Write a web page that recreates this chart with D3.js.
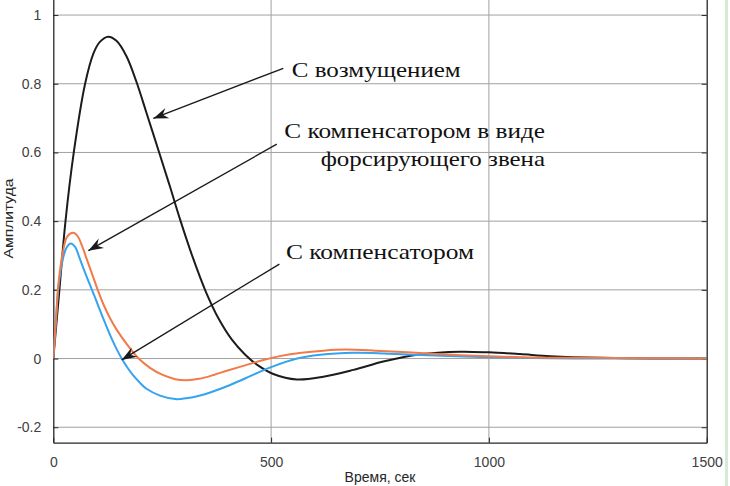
<!DOCTYPE html>
<html><head><meta charset="utf-8">
<script src="https://cdn.jsdelivr.net/npm/d3@7/dist/d3.min.js"></script>
<style>html,body{margin:0;padding:0;background:#fff;overflow:hidden}</style>
</head><body>
<svg id="chart" width="730" height="486"></svg>
<script>
// ---- data ----
const xTicks = [0, 500, 1000, 1500];
const yTicks = [-0.2, 0, 0.2, 0.4, 0.6, 0.8, 1];
const xLabel = "Время, сек";
const yLabel = "Амплитуда";

const blackT = [0, 14, 28, 47, 73, 92, 107, 126, 145, 168, 191, 214, 243, 268, 291, 320, 350, 380, 410, 440, 470, 505, 559, 620, 689, 760, 840, 934, 1000, 1071, 1141, 1260, 1400, 1500];
const blackV = [0, 0.2, 0.4, 0.6, 0.8, 0.888, 0.922, 0.937, 0.925, 0.88, 0.805, 0.715, 0.6, 0.5, 0.405, 0.295, 0.195, 0.115, 0.055, 0.012, -0.02, -0.045, -0.061, -0.053, -0.033, -0.008, 0.012, 0.020, 0.018, 0.013, 0.007, 0.002, 0, 0];

const orangeT = [0, 6, 12, 22, 32, 46, 56, 66, 78, 90, 102, 115, 130, 145, 170, 196, 222, 250, 280, 305, 335, 370, 400, 440, 480, 520, 570, 620, 670, 740, 842, 950, 1071, 1200, 1350, 1500];
const orangeV = [0, 0.11, 0.22, 0.31, 0.355, 0.366, 0.356, 0.328, 0.285, 0.243, 0.2, 0.158, 0.118, 0.085, 0.04, 0, -0.027, -0.047, -0.06, -0.063, -0.059, -0.047, -0.035, -0.02, -0.005, 0.007, 0.017, 0.023, 0.026, 0.023, 0.016, 0.009, 0.004, 0.002, 0.001, 0];

const blueT = [0, 6, 12, 22, 30, 40, 50, 61, 72, 84, 96, 107, 120, 134, 146, 157, 170, 184, 200, 214, 245, 280, 320, 360, 400, 440, 500, 560, 613, 690, 760, 842, 1000, 1150, 1300, 1500];
const blueV = [0, 0.11, 0.21, 0.29, 0.322, 0.335, 0.325, 0.29, 0.253, 0.215, 0.177, 0.141, 0.1, 0.058, 0.026, 0, -0.026, -0.05, -0.072, -0.088, -0.108, -0.118, -0.113, -0.099, -0.08, -0.058, -0.025, 0, 0.011, 0.017, 0.015, 0.01, 0.004, 0.001, 0, 0];

const annotationTexts = [["С возмущением"], ["С компенсатором в виде", "форсирующего звена"], ["С компенсатором"]];
// arrows: tail and head in data units (time, amplitude)
const arrowTails = [[528, 0.845], [513, 0.624], [519, 0.275]];
const arrowHeads = [[229.6, 0.699], [80.4, 0.314], [157, -0.004]];

// ---- layout ----
const W = 730, H = 486;
const L = 53.3, R = 706.7, B = 442.7;
const x = d3.scaleLinear().domain([0, 1500]).range([L, R]);
const y = d3.scaleLinear().domain([-0.245, 1.2]).range([B, B - 1.445 * 343.5]);

const svg = d3.select("#chart");
svg.append("rect").attr("width", W).attr("height", H).attr("fill", "#fff");
svg.append("rect").attr("x", 725).attr("y", 0).attr("width", 3).attr("height", H).attr("fill", "#d6ead6");

const defs = svg.append("defs");
defs.append("clipPath").attr("id", "clip").append("rect")
  .attr("x", L).attr("y", y.range()[1]).attr("width", R - L).attr("height", B - y.range()[1]);

// grid
const grid = svg.append("g").attr("stroke", "#a0a0a0").attr("stroke-width", 1);
yTicks.forEach(v => grid.append("line").attr("x1", L).attr("x2", R).attr("y1", y(v)).attr("y2", y(v)));
xTicks.slice(1, -1).forEach(v => grid.append("line").attr("x1", x(v)).attr("x2", x(v)).attr("y1", 0).attr("y2", B));

// axes
const fmt = d => String(d);
const gx = svg.append("g").attr("transform", `translate(0,${B})`)
  .call(d3.axisBottom(x).tickValues(xTicks).tickFormat(fmt).tickSizeInner(-5).tickSizeOuter(0).tickPadding(15));
const gy = svg.append("g").attr("transform", `translate(${L},0)`)
  .call(d3.axisLeft(y).tickValues(yTicks).tickFormat(fmt).tickSizeInner(-5).tickSizeOuter(0).tickPadding(12));
const gr = svg.append("g").attr("transform", `translate(${R},0)`)
  .call(d3.axisRight(y).tickValues(yTicks).tickFormat("").tickSizeInner(-5).tickSizeOuter(0));
[gx, gy, gr].forEach(g => {
  g.selectAll(".domain").attr("stroke", "#262626").attr("stroke-width", 1.3);
  g.selectAll(".tick line").attr("stroke", "#262626").attr("stroke-width", 1);
  g.selectAll("text").attr("fill", "#404040").attr("font-family", "Liberation Sans, Arial, sans-serif").attr("font-size", 14);
});
gx.selectAll("text").attr("dy", "0.35em").attr("y", 19);

svg.append("text").attr("transform", `translate(12.5,218.5) rotate(-90)`)
  .attr("text-anchor", "middle").attr("font-family", "Liberation Sans, Arial, sans-serif")
  .attr("font-size", 13).attr("textLength", 80).attr("lengthAdjust", "spacingAndGlyphs")
  .attr("fill", "#262626").text(yLabel);
svg.append("text").attr("x", (L + R) / 2).attr("y", 481.5).attr("text-anchor", "middle")
  .attr("font-family", "Liberation Sans, Arial, sans-serif").attr("font-size", 14).attr("fill", "#262626").text(xLabel);

// curves
const line = d3.line().x(d => x(d[0])).y(d => y(d[1])).curve(d3.curveCatmullRom.alpha(0.5));
const series = [
  {t: blackT, v: blackV, c: "#1c1c1c"},
  {t: blueT, v: blueV, c: "#35a3ef"},
  {t: orangeT, v: orangeV, c: "#f27a48"}
];
const plot = svg.append("g").attr("clip-path", "url(#clip)");
series.forEach(s => {
  plot.append("path").datum(d3.zip(s.t, s.v)).attr("d", line)
    .attr("fill", "none").attr("stroke", s.c).attr("stroke-width", 2).attr("stroke-linejoin", "round");
});

// arrows
arrowTails.forEach((tl, i) => {
  const hd = arrowHeads[i];
  const x1 = x(tl[0]), y1 = y(tl[1]), x2 = x(hd[0]), y2 = y(hd[1]);
  const ang = Math.atan2(y2 - y1, x2 - x1) * 180 / Math.PI;
  svg.append("line").attr("x1", x1).attr("y1", y1).attr("x2", x2).attr("y2", y2)
    .attr("stroke", "#1a1a1a").attr("stroke-width", 1.4);
  svg.append("path").attr("d", "M0,0 L-15,-5.5 L-10,0 L-15,5.5 Z")
    .attr("transform", `translate(${x2},${y2}) rotate(${ang})`).attr("fill", "#1a1a1a");
});

// annotation texts
const tf = "Liberation Serif, Times New Roman, serif";
function addText(str, px, py, anchor, len) {
  svg.append("text").attr("x", px).attr("y", py).attr("text-anchor", anchor)
    .attr("font-family", tf).attr("font-size", 21.5).attr("fill", "#111")
    .attr("textLength", len).attr("lengthAdjust", "spacingAndGlyphs").text(str);
}
addText(annotationTexts[0][0], x(547.3), y(0.819), "start", 169);
addText(annotationTexts[1][0], x(530.3), y(0.643), "start", 260.7);
addText(annotationTexts[1][1], x(1128.8), y(0.560), "end", 224.3);
addText(annotationTexts[2][0], x(534.2), y(0.290), "start", 188);
</script>
</body></html>
